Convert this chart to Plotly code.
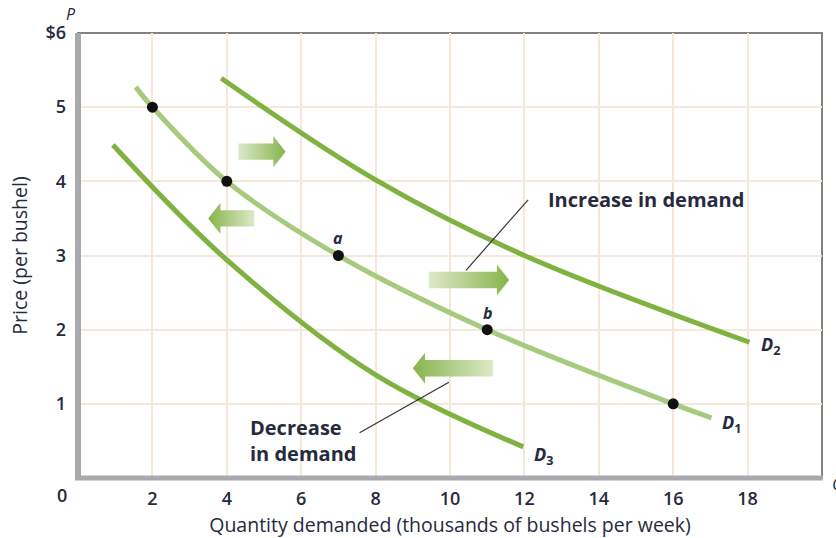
import plotly.graph_objects as go

# Demand schedules (quantity in thousands of bushels per week, price per bushel)
d1_q = [1.55, 2, 4, 7, 11, 16, 17.03]
d1_p = [5.27, 5, 4, 3, 2, 1, 0.81]

d2_q = [3.85, 8, 12, 18.05]
d2_p = [5.39, 4.02, 3.0, 1.83]

d3_q = [0.94, 4, 8, 11.97]
d3_p = [4.49, 2.94, 1.39, 0.42]

# Marked combinations on D1
pt_q = [2, 4, 7, 11, 16]
pt_p = [5, 4, 3, 2, 1]

# Shift arrows: (tail quantity, tip quantity, price level)
shift_arrows = [
    (4.31, 5.58, 4.40),
    (4.74, 3.50, 3.50),
    (9.43, 11.59, 2.67),
    (11.16, 9.00, 1.48),
]

x_ticks = [2, 4, 6, 8, 10, 12, 14, 16, 18]
x_tick_text = ["2", "4", "6", "8", "10", "12", "14", "16", "18"]
y_ticks = [1, 2, 3, 4, 5, 6]
y_tick_text = ["1", "2", "3", "4", "5", "$6"]

INK = "#262a3c"
DARK_GREEN = "#80b241"
LIGHT_GREEN = "#a7cb7e"
FONT = "Open Sans"

fig = go.Figure()

# Block arrows with a horizontal gradient
BODY_H = 0.11
HEAD_H = 0.21
HEAD_L = 0.33
for tail, tip, y in shift_arrows:
    s = 1 if tip > tail else -1
    neck = tip - s * HEAD_L
    xs = [tail, neck, neck, tip, neck, neck, tail, tail]
    ys = [y - BODY_H, y - BODY_H, y - HEAD_H, y, y + HEAD_H, y + BODY_H, y + BODY_H, y - BODY_H]
    scale = [[0, "#dde9c9"], [1, "#86b44c"]] if s > 0 else [[0, "#86b44c"], [1, "#dde9c9"]]
    fig.add_trace(go.Scatter(
        x=xs, y=ys, mode="lines", line=dict(width=0), fill="toself",
        fillgradient=dict(type="horizontal", colorscale=scale),
        hoverinfo="skip", showlegend=False,
    ))

# Demand curves
for q, p, c in [(d2_q, d2_p, DARK_GREEN), (d3_q, d3_p, DARK_GREEN), (d1_q, d1_p, LIGHT_GREEN)]:
    fig.add_trace(go.Scatter(
        x=q, y=p, mode="lines", line=dict(color=c, width=5, shape="spline", smoothing=1.0),
        hoverinfo="skip", showlegend=False,
    ))

fig.add_trace(go.Scatter(
    x=pt_q, y=pt_p, mode="markers",
    marker=dict(color="#111111", size=11),
    hoverinfo="skip", showlegend=False,
))

# Leader lines for the shift labels
fig.add_shape(type="line", x0=12.10, y0=3.75, x1=10.43, y1=2.80,
              line=dict(color="#333333", width=1.2))
fig.add_shape(type="line", x0=7.57, y0=0.61, x1=9.97, y1=1.29,
              line=dict(color="#333333", width=1.2))

# Plot frame: thin top/right border, heavy left/bottom axes
fig.add_shape(type="rect", xref="paper", yref="paper", x0=0, y0=0, x1=1, y1=1,
              line=dict(color="#85807b", width=2), layer="below")
fig.add_shape(type="line", xref="paper", yref="paper", x0=0, y0=-0.004, x1=0, y1=1,
              line=dict(color="#a9a9ad", width=6))
fig.add_shape(type="line", xref="paper", yref="paper", x0=-0.004, y0=0, x1=1.001, y1=0,
              line=dict(color="#a9a9ad", width=5))

ann = []
ann.append(dict(x=12.59, y=3.76, text="<b>Increase in demand</b>", xanchor="left",
                font=dict(size=20)))
ann.append(dict(x=4.56, y=0.50, text="<b>Decrease<br>in demand</b>", xanchor="left",
                align="left", font=dict(size=20)))
ann.append(dict(x=7.0, y=3.24, text="<b><i>a</i></b>", font=dict(size=16)))
ann.append(dict(x=11.02, y=2.22, text="<b><i>b</i></b>", font=dict(size=16)))
ann.append(dict(x=18.3, y=1.79, text="<b><i>D</i><sub>2</sub></b>", xanchor="left", font=dict(size=18)))
ann.append(dict(x=17.25, y=0.74, text="<b><i>D</i><sub>1</sub></b>", xanchor="left", font=dict(size=18)))
ann.append(dict(x=12.2, y=0.31, text="<b><i>D</i><sub>3</sub></b>", xanchor="left", font=dict(size=18)))
for a in ann:
    a.update(xref="x", yref="y", showarrow=False)
    a["font"].update(color=INK, family=FONT)

# Corner and axis letters
ann.append(dict(xref="paper", yref="paper", x=-0.022, y=-0.038, text="0", showarrow=False,
                xanchor="center", yanchor="middle",
                font=dict(size=18, color=INK, family=FONT, weight=600)))
ann.append(dict(xref="paper", yref="paper", x=-0.009, y=1.042, text="<i>P</i>", showarrow=False,
                xanchor="center", yanchor="middle", font=dict(size=16, color=INK, family=FONT)))
ann.append(dict(xref="paper", yref="paper", x=1.022, y=-0.013, text="<i>Q</i>", showarrow=False,
                xanchor="center", yanchor="middle", font=dict(size=17, color=INK, family=FONT)))

fig.update_layout(
    width=836, height=538,
    margin=dict(l=78, r=14, t=33, b=60),
    paper_bgcolor="white", plot_bgcolor="white",
    font=dict(family=FONT, color=INK),
    annotations=ann,
    showlegend=False,
)
fig.update_xaxes(
    range=[0, 20], tickvals=x_ticks, ticktext=x_tick_text, automargin=False,
    showgrid=True, gridcolor="#f3e8da", gridwidth=2, zeroline=False, showline=False,
    ticks="", ticklabelstandoff=8,
    tickfont=dict(size=18, color=INK, family=FONT, weight=600),
    title=dict(text="Quantity demanded (thousands of bushels per week)",
               font=dict(size=19.5, color=INK, family=FONT), standoff=10),
)
fig.update_yaxes(
    range=[0, 6], tickvals=y_ticks, ticktext=y_tick_text, automargin=False,
    showgrid=True, gridcolor="#f3e8da", gridwidth=2, zeroline=False, showline=False,
    ticks="", ticklabelstandoff=11,
    tickfont=dict(size=18, color=INK, family=FONT, weight=600),
    title=dict(text="Price (per bushel)", font=dict(size=19.5, color=INK, family=FONT), standoff=12),
)

fig.write_html("out.html")
